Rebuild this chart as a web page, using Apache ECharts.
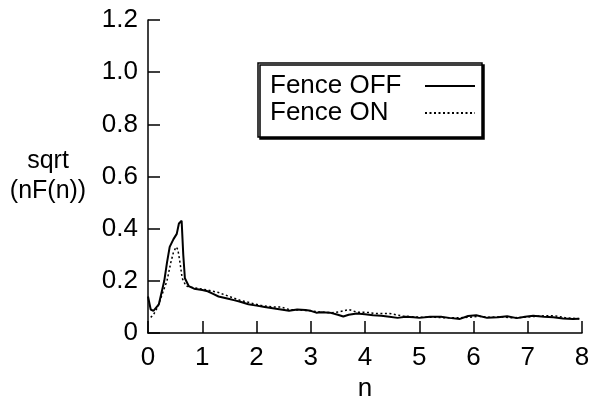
<!DOCTYPE html>
<html><head><meta charset="utf-8">
<script src="https://cdn.jsdelivr.net/npm/echarts@6/dist/echarts.min.js"></script>
<style>html,body{margin:0;padding:0;background:#fff}#c{width:591px;height:399px}</style>
</head><body><div id="c"></div>
<script>
var offN = [0, 0.05, 0.1, 0.2, 0.3, 0.35, 0.4, 0.47, 0.53, 0.57, 0.62, 0.65, 0.68, 0.75, 0.85, 1.0, 1.1, 1.2, 1.3, 1.4, 1.5, 1.6, 1.7, 1.85, 2.0, 2.15, 2.3, 2.45, 2.6, 2.75, 2.9, 3.0, 3.1, 3.2, 3.35, 3.5, 3.6, 3.7, 3.85, 4.0, 4.15, 4.3, 4.45, 4.6, 4.75, 4.9, 5.0, 5.2, 5.4, 5.55, 5.75, 5.9, 6.05, 6.25, 6.45, 6.62, 6.8, 6.95, 7.1, 7.3, 7.47, 7.65, 7.83, 7.95];
var offV = [0.14, 0.09, 0.085, 0.11, 0.2, 0.27, 0.33, 0.36, 0.38, 0.42, 0.43, 0.3, 0.21, 0.18, 0.17, 0.165, 0.16, 0.15, 0.14, 0.135, 0.13, 0.125, 0.12, 0.11, 0.105, 0.1, 0.095, 0.09, 0.085, 0.09, 0.088, 0.085, 0.078, 0.08, 0.078, 0.07, 0.063, 0.07, 0.075, 0.072, 0.068, 0.066, 0.062, 0.058, 0.062, 0.06, 0.058, 0.062, 0.062, 0.058, 0.054, 0.065, 0.068, 0.058, 0.06, 0.064, 0.057, 0.062, 0.066, 0.062, 0.06, 0.056, 0.054, 0.055];
var onN = [0.05, 0.1, 0.18, 0.28, 0.35, 0.42, 0.47, 0.52, 0.55, 0.59, 0.63, 0.7, 0.8, 0.95, 1.1, 1.3, 1.5, 1.7, 1.9, 2.1, 2.3, 2.45, 2.6, 2.8, 3.0, 3.2, 3.4, 3.55, 3.7, 3.85, 4.0, 4.2, 4.45, 4.7, 4.9, 5.1, 5.3, 5.5, 5.7, 5.9, 6.1, 6.3, 6.5, 6.7, 6.9, 7.1, 7.3, 7.5, 7.7, 7.95];
var onV = [0.06, 0.07, 0.1, 0.16, 0.2, 0.27, 0.31, 0.33, 0.32, 0.27, 0.21, 0.18, 0.175, 0.17, 0.165, 0.155, 0.14, 0.125, 0.115, 0.105, 0.1, 0.1, 0.09, 0.088, 0.085, 0.08, 0.078, 0.082, 0.09, 0.08, 0.08, 0.075, 0.075, 0.065, 0.062, 0.06, 0.06, 0.058, 0.058, 0.06, 0.064, 0.06, 0.062, 0.058, 0.06, 0.063, 0.066, 0.066, 0.058, 0.055];
var seriesNames = ['Fence OFF', 'Fence ON'];
var yTicks = ['0', '0.2', '0.4', '0.6', '0.8', '1.0', '1.2'];
var xTitle = 'n';
var yTitle = 'sqrt\n(nF(n))';

function pairs(xs, ys) { return xs.map(function (x, i) { return [x, ys[i]]; }); }
var FONT = '"Liberation Sans", Arial, sans-serif';
var chart = echarts.init(document.getElementById('c'), null, { renderer: 'canvas' });
chart.setOption({
  animation: false,
  backgroundColor: '#fff',
  grid: { left: 148, right: 9, top: 20, bottom: 66, containLabel: false, outerBoundsMode: 'none' },
  legend: {
    orient: 'vertical', left: 258, top: 63, align: 'right',
    data: seriesNames,
    backgroundColor: '#fff', borderColor: '#000', borderWidth: 1.5, borderRadius: 0,
    shadowColor: '#000', shadowBlur: 0, shadowOffsetX: 2, shadowOffsetY: 2,
    padding: [10, 6, 11, 12], itemGap: 1, itemWidth: 50, itemHeight: 26,
    itemStyle: { opacity: 0 },
    formatter: function (name) { return '{t|' + name + '}'; },
    textStyle: { color: '#000', fontSize: 26, fontFamily: FONT,
      rich: { t: { width: 150, align: 'left', fontSize: 26, lineHeight: 26, fontFamily: FONT, color: '#000' } } }
  },
  xAxis: {
    type: 'value', min: 0, max: 8, interval: 1,
    name: xTitle, nameLocation: 'middle', nameGap: 40,
    nameTextStyle: { color: '#000', fontSize: 26, fontFamily: FONT },
    axisLine: { show: true, onZero: false, lineStyle: { color: '#000', width: 1.5 } },
    axisTick: { show: true, inside: true, length: 12, lineStyle: { color: '#000', width: 1.5 } },
    axisLabel: { color: '#000', fontSize: 26, fontFamily: FONT, margin: 12 },
    splitLine: { show: false }
  },
  yAxis: {
    type: 'value', min: 0, max: 1.2, interval: 0.2,
    name: yTitle, nameLocation: 'middle', nameRotate: 0, nameGap: 100,
    nameTextStyle: { color: '#000', fontSize: 25, fontFamily: FONT, lineHeight: 30, align: 'center', padding: [14, 0, 0, 0] },
    axisLine: { show: true, lineStyle: { color: '#000', width: 1.5 } },
    axisTick: { show: true, inside: true, length: 12, lineStyle: { color: '#000', width: 1.5 } },
    axisLabel: { color: '#000', fontSize: 26, fontFamily: FONT, margin: 10,
      formatter: function (v) { var i = Math.round(v / 0.2); return yTicks[i]; } },
    splitLine: { show: false }
  },
  series: [
    { name: seriesNames[0], type: 'line', data: pairs(offN, offV), symbol: 'none', smooth: false,
      lineStyle: { color: '#000', width: 2, type: 'solid' }, itemStyle: { color: '#000' } },
    { name: seriesNames[1], type: 'line', data: pairs(onN, onV), symbol: 'none', smooth: false,
      lineStyle: { color: '#000', width: 1.5, type: [2, 2.5] }, itemStyle: { color: '#000' } }
  ]
});
</script></body></html>
